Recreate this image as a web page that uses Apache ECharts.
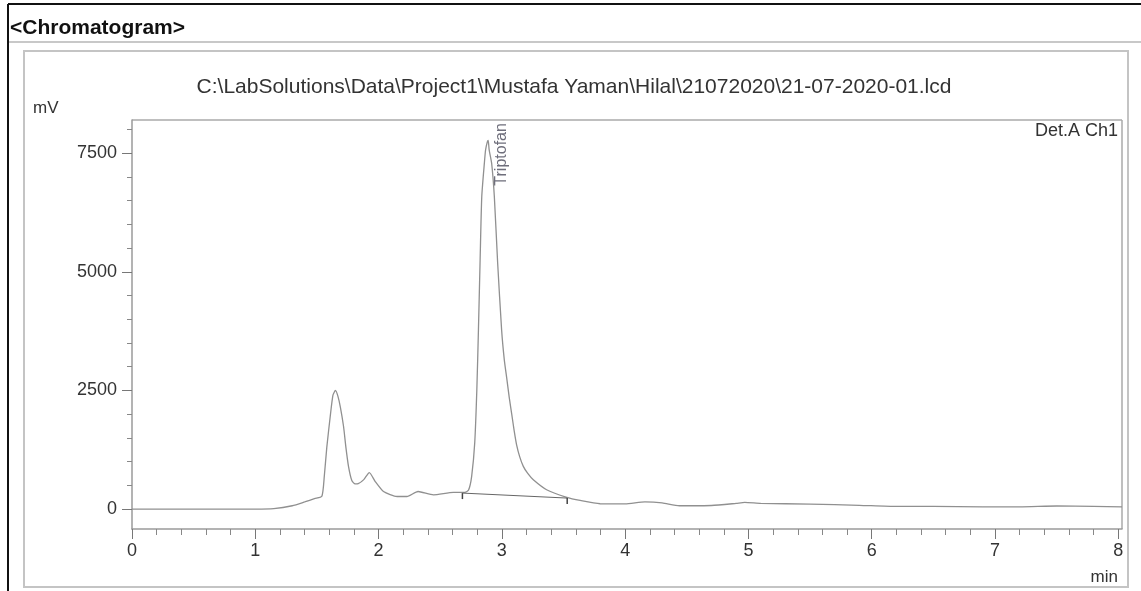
<!DOCTYPE html>
<html>
<head>
<meta charset="utf-8">
<script src="https://cdn.jsdelivr.net/npm/echarts@6/dist/echarts.min.js"></script>
<style>
  html, body { margin: 0; padding: 0; background: #fff; }
  #chart { width: 1141px; height: 591px; }
</style>
</head>
<body>
<div id="chart"></div>
<script>
// retention time (min) and detector signal (mV)
const times = [0, 0.5, 1.0, 1.15, 1.3, 1.4, 1.48, 1.54, 1.56, 1.58, 1.61, 1.63, 1.65, 1.67, 1.69, 1.716, 1.735, 1.756, 1.783, 1.81, 1.835, 1.88, 1.925, 1.973, 2.04, 2.15, 2.23, 2.32, 2.445, 2.607, 2.70, 2.73, 2.755, 2.78, 2.797, 2.81, 2.823, 2.837, 2.858, 2.868, 2.882, 2.889, 2.897, 2.917, 2.939, 2.966, 2.998, 3.02, 3.04, 3.06, 3.08, 3.10, 3.12, 3.145, 3.174, 3.21, 3.255, 3.363, 3.52, 3.635, 3.797, 4.0, 4.16, 4.3, 4.44, 4.7, 4.9, 4.97, 5.1, 5.5, 5.9, 6.2, 6.5, 6.9, 7.2, 7.5, 7.8, 8.03];
const signal = [0, 0, 0, 10, 70, 150, 220, 270, 700, 1300, 2000, 2400, 2500, 2380, 2150, 1740, 1300, 900, 600, 530, 535, 620, 770, 580, 370, 265, 265, 370, 300, 350, 350, 400, 690, 1400, 2513, 3777, 5182, 6585, 7290, 7570, 7740, 7770, 7570, 7290, 6585, 5182, 3777, 3140, 2750, 2350, 2000, 1650, 1350, 1100, 900, 750, 617, 407, 253, 181, 112, 110, 150, 130, 70, 75, 120, 140, 120, 105, 80, 55, 55, 45, 45, 65, 55, 45];

// integration baseline under the Triptofan peak
const baseTimes = [2.68, 3.53];
const baseSignal = [337, 232];

const peakName = 'Triptofan';
const peakTime = 2.889;
const peakHeight = 7770;

const xMajor = [0, 1, 2, 3, 4, 5, 6, 7, 8];
const xMinor = [0.2, 0.4, 0.6, 0.8, 1.2, 1.4, 1.6, 1.8, 2.2, 2.4, 2.6, 2.8, 3.2, 3.4, 3.6, 3.8, 4.2, 4.4, 4.6, 4.8, 5.2, 5.4, 5.6, 5.8, 6.2, 6.4, 6.6, 6.8, 7.2, 7.4, 7.6, 7.8];
const yMajor = [0, 2500, 5000, 7500];
const yMinor = [500, 1000, 1500, 2000, 3000, 3500, 4000, 4500, 5500, 6000, 6500, 7000, 8000];

const font = 'Liberation Sans, Arial, sans-serif';
const axisGray = '#9a9a9a';

const chart = echarts.init(document.getElementById('chart'));

const trace = times.map((t, i) => [t, signal[i]]);
const baseline = baseTimes.map((t, i) => [t, baseSignal[i]]);

chart.setOption({
  animation: false,
  backgroundColor: '#fff',
  grid: { left: 132, top: 120, right: 19, bottom: 62, show: false },
  xAxis: [
    {
      type: 'value', min: 0, max: 8.03,
      axisLine: { onZero: false, lineStyle: { color: axisGray, width: 1.5 } },
      axisTick: { customValues: xMajor, length: 10, lineStyle: { color: '#777' } },
      axisLabel: { customValues: xMajor, margin: 13, color: '#333', fontSize: 18, fontFamily: font },
      splitLine: { show: false }
    },
    {
      type: 'value', min: 0, max: 8.03, position: 'bottom',
      axisLine: { show: false, onZero: false },
      axisTick: { customValues: xMinor, length: 6, lineStyle: { color: '#888' } },
      axisLabel: { show: false },
      splitLine: { show: false }
    }
  ],
  yAxis: [
    {
      type: 'value', min: -420, max: 8200,
      axisLine: { show: true, onZero: false, lineStyle: { color: axisGray, width: 1.5 } },
      axisTick: { show: true, customValues: yMajor, length: 10, lineStyle: { color: '#777' } },
      axisLabel: { customValues: yMajor, margin: 15, color: '#333', fontSize: 18, fontFamily: font, formatter: v => String(v) },
      splitLine: { show: false }
    },
    {
      type: 'value', min: -420, max: 8200, position: 'left',
      axisLine: { show: false, onZero: false },
      axisTick: { show: true, customValues: yMinor, length: 5, lineStyle: { color: '#888' } },
      axisLabel: { show: false },
      splitLine: { show: false }
    }
  ],
  series: [
    {
      type: 'line', data: trace, showSymbol: false, smooth: 0.2,
      lineStyle: { color: '#909090', width: 1.3 }
    },
    {
      type: 'line', data: baseline, showSymbol: true,
      symbol: 'rect', symbolSize: [1.5, 6], symbolOffset: [0, 3],
      itemStyle: { color: '#444' },
      lineStyle: { color: '#666', width: 1 }
    },
    {
      type: 'scatter', data: [[peakTime, peakHeight]], symbolSize: 0,
      label: {
        show: true, formatter: peakName, position: [13, 14], rotate: 90,
        align: 'center', verticalAlign: 'middle',
        color: '#4a4a5a', fontSize: 16, fontFamily: font
      }
    }
  ],
  graphic: [
    // outer report frame
    { type: 'line', shape: { x1: 8, y1: 4, x2: 1141, y2: 4 }, style: { stroke: '#111', lineWidth: 2 } },
    { type: 'line', shape: { x1: 8, y1: 4, x2: 8, y2: 591 }, style: { stroke: '#111', lineWidth: 2 } },
    { type: 'line', shape: { x1: 9, y1: 42, x2: 1141, y2: 42 }, style: { stroke: '#c8c8c8', lineWidth: 2 } },
    { type: 'text', left: 10, top: 18, style: { text: '<Chromatogram>', font: 'bold 21px ' + font, fill: '#111' } },
    // inner panel
    { type: 'rect', shape: { x: 24, y: 51, width: 1104, height: 536 }, style: { fill: 'none', stroke: '#c4c4c4', lineWidth: 2 } },
    // plot box top and right edges
    { type: 'line', shape: { x1: 132, y1: 120, x2: 1122, y2: 120 }, style: { stroke: '#aaa', lineWidth: 1.5 } },
    { type: 'line', shape: { x1: 1122, y1: 120, x2: 1122, y2: 529 }, style: { stroke: '#aaa', lineWidth: 1.5 } },
    { type: 'text', x: 574, y: 87, style: { text: 'C:\\LabSolutions\\Data\\Project1\\Mustafa Yaman\\Hilal\\21072020\\21-07-2020-01.lcd', font: '21px ' + font, fill: '#333', align: 'center', verticalAlign: 'middle' } },
    { type: 'text', x: 33, y: 108, style: { text: 'mV', font: '17px ' + font, fill: '#333', verticalAlign: 'middle' } },
    { type: 'text', x: 1118, y: 577, style: { text: 'min', font: '17px ' + font, fill: '#333', align: 'right', verticalAlign: 'middle' } },
    { type: 'text', x: 1118, y: 131, style: { text: 'Det.A Ch1', font: '18px ' + font, fill: '#333', align: 'right', verticalAlign: 'middle' } }
  ]
});
</script>
</body>
</html>
